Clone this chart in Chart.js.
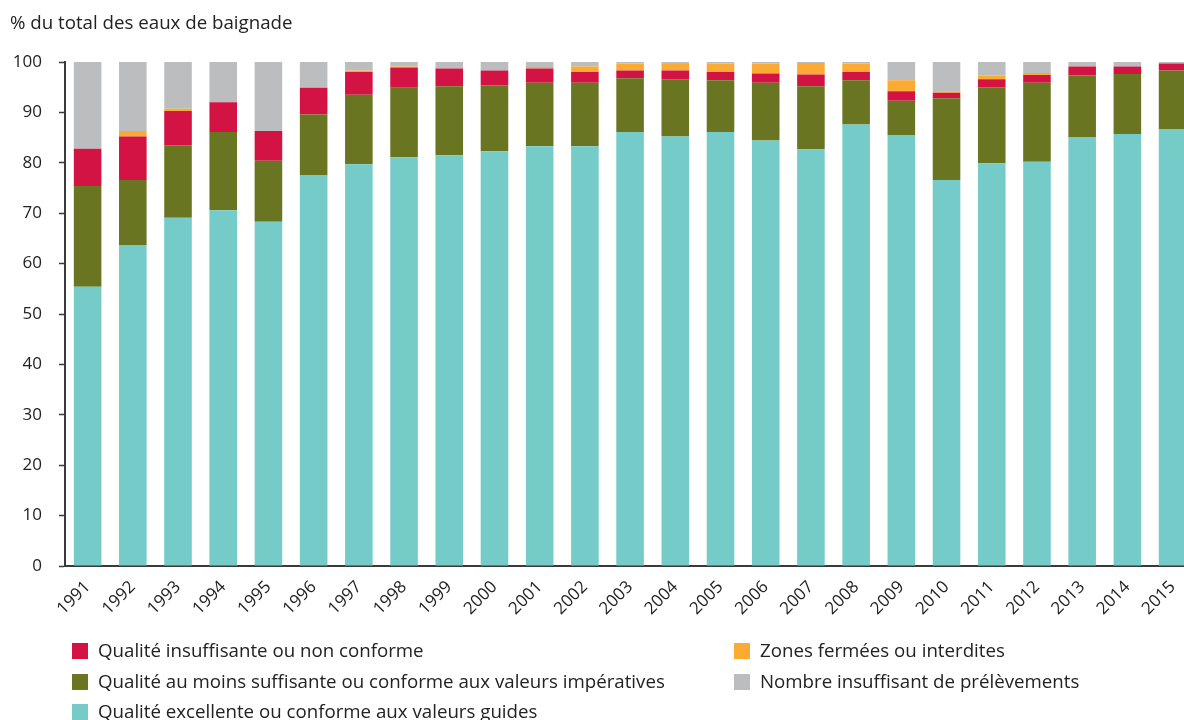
<!DOCTYPE html>
<html>
<head>
<meta charset="utf-8">
<script src="https://cdn.jsdelivr.net/npm/chart.js@4"></script>
<style>
  body { margin: 0; background: #fff; font-family: "Open Sans", sans-serif; color: #222; }
  #wrap { position: relative; width: 1184px; height: 720px; overflow: hidden; }
  #chart { position: absolute; left: 0; top: 0; }
  #title { position: absolute; left: 10px; top: 9px; font-size: 18.7px; }
  .leg { position: absolute; font-size: 18.7px; line-height: 22px; white-space: nowrap; }
  .leg span { display: inline-block; width: 16px; height: 16px; vertical-align: -2px; margin-right: 10px; }
</style>
</head>
<body>
<div id="wrap">
  <canvas id="chart" width="1198" height="720"></canvas>
  <div id="title">% du total des eaux de baignade</div>
  <div class="leg" style="left:72px; top:639px"><span style="background:#D31344"></span>Qualité insuffisante ou non conforme</div>
  <div class="leg" style="left:734px; top:639px"><span style="background:#FBAB33"></span>Zones fermées ou interdites</div>
  <div class="leg" style="left:72px; top:670px"><span style="background:#6A7521"></span>Qualité au moins suffisante ou conforme aux valeurs impératives</div>
  <div class="leg" style="left:734px; top:670px"><span style="background:#BCBDBF"></span>Nombre insuffisant de prélèvements</div>
  <div class="leg" style="left:72px; top:700px"><span style="background:#74CBC8"></span>Qualité excellente ou conforme aux valeurs guides</div>
</div>
<script>
const years = ['1991','1992','1993','1994','1995','1996','1997','1998','1999','2000','2001','2002','2003',
               '2004','2005','2006','2007','2008','2009','2010','2011','2012','2013','2014','2015'];

// percentages (each layer on its own, stacked bottom to top)
const excellent = [55.4, 63.7, 69.1, 70.6, 68.3, 77.5, 79.7, 81.1, 81.5, 82.3, 83.3, 83.3, 86.1,
                   85.2, 86.1, 84.4, 82.7, 87.6, 85.4, 76.6, 79.9, 80.2, 85.0, 85.7, 86.6];
const suffisante = [20.0, 12.9, 14.4, 15.5, 12.1, 12.1, 13.8, 13.8, 13.7, 13.1, 12.6, 12.6, 10.7,
                    11.4, 10.3, 11.5, 12.5, 8.8, 6.9, 16.2, 15.1, 15.7, 12.3, 11.9, 11.7];
const insuffisante = [7.4, 8.6, 6.8, 5.9, 5.9, 5.3, 4.5, 4.0, 3.5, 2.9, 2.8, 2.1, 1.5,
                      1.7, 1.6, 1.8, 2.3, 1.6, 1.9, 1.1, 1.6, 1.5, 1.8, 1.5, 1.4];
const fermees = [0, 1.1, 0.4, 0, 0, 0, 0.3, 0.2, 0, 0, 0.3, 1.1, 1.4,
                 1.3, 1.7, 2.0, 2.3, 1.7, 2.2, 0.3, 0.7, 0.4, 0, 0, 0.1];
const prelevements = years.map((y, i) =>
  +(100 - excellent[i] - suffisante[i] - insuffisante[i] - fermees[i]).toFixed(1));

const yTicks = [0, 10, 20, 30, 40, 50, 60, 70, 80, 90, 100];

function layer(label, data, color) {
  return { label: label, data: data, backgroundColor: color, borderWidth: 0,
           barPercentage: 0.61, categoryPercentage: 1.0 };
}

new Chart(document.getElementById('chart'), {
  type: 'bar',
  data: {
    labels: years,
    datasets: [
      layer('Qualité excellente ou conforme aux valeurs guides', excellent, '#74CBC8'),
      layer('Qualité au moins suffisante ou conforme aux valeurs impératives', suffisante, '#6A7521'),
      layer('Qualité insuffisante ou non conforme', insuffisante, '#D31344'),
      layer('Zones fermées ou interdites', fermees, '#FBAB33'),
      layer('Nombre insuffisant de prélèvements', prelevements, '#BCBDBF')
    ]
  },
  options: {
    responsive: false,
    animation: false,
    layout: { padding: { top: 62, right: 0, bottom: 94, left: 0 } },
    plugins: { legend: { display: false }, tooltip: { enabled: false } },
    scales: {
      x: {
        stacked: true,
        grid: { display: false, drawTicks: false },
        border: { color: '#3a3a3a', width: 2 },
        ticks: { color: '#222', font: { family: 'Open Sans', size: 17 },
                 maxRotation: 45, minRotation: 45, padding: 11 },
        afterFit: s => { s.height = 60; }
      },
      y: {
        stacked: true,
        min: 0, max: 100,
        afterBuildTicks: s => { s.ticks = yTicks.map(v => ({ value: v })); },
        grid: { drawOnChartArea: false, drawTicks: true, tickLength: 6, color: '#3a3a3a', tickWidth: 1.5 },
        border: { color: '#3a3a3a', width: 2 },
        ticks: { color: '#222', font: { family: 'Open Sans', size: 17 }, padding: 17 },
        afterFit: s => { s.width = 65; }
      }
    }
  }
});
</script>
</body>
</html>
